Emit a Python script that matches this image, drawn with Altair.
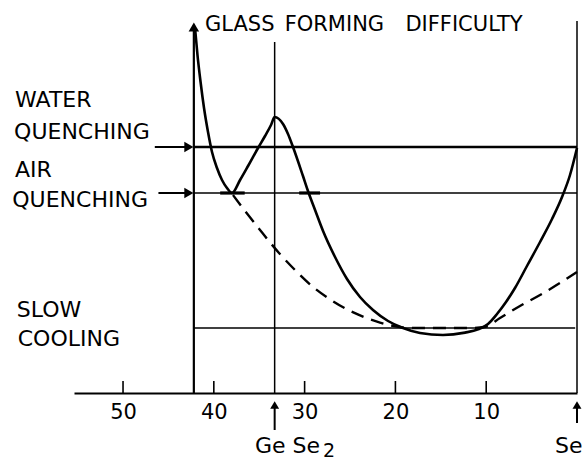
import altair as alt
import pandas as pd

# Composition axis: at.% Ge (decreasing to the right, pure Se at 0)
tick_values = [50, 40, 30, 20, 10]

# Glass-forming difficulty, solid curve
solid_x = [42.07, 41.80, 41.46, 41.08, 40.64, 40.20, 39.65, 39.10, 38.55, 38.0,
           37.11, 36.23, 35.13, 34.36, 33.70, 33.3, 32.38, 31.83, 31.28, 30.18,
           29.63, 28.85, 27.97, 26.65, 25.33, 23.9, 22.47, 20.81, 19.16, 17.29,
           14.76, 12.33, 10.90, 9.80, 8.81, 7.82, 6.83, 5.51, 4.07, 2.75,
           1.65, 0.77, 0.0]
solid_y = [91.25, 84.5, 77.75, 71.25, 65.25, 60.25, 56.25, 53.25, 51.25, 50,
           53.25, 56.75, 61.25, 64.25, 67, 69, 67.25, 64.75, 61.5, 54.25,
           50.5, 45.75, 40.5, 34, 28.5, 24, 20.75, 18, 16.25, 15,
           14.5, 15.1, 15.9, 17.25, 19.75, 22.75, 26.25, 31.75, 37.75, 43.5,
           49, 54.5, 61.25]

# Dashed curve
dash_x = [37.89, 36.56, 34.91, 32.82, 30.95, 29.07, 27.2, 25.33, 23.35, 21.7,
          19.82, 18.39, 15.09, 11.78, 10.13, 8.48, 6.28, 4.07, 1.87, 0.0]
dash_y = [49.5, 45.5, 40.75, 35, 30.5, 26.5, 23.4, 20.9, 18.9, 17.6,
          16.6, 16.25, 16.25, 16.25, 16.5, 18.75, 21.75, 24.5, 27.5, 30.25]

# Cooling-rate levels
level_names = ["water", "air", "slow"]
level_y = [61.5, 50, 16.25]

axis_x = 42.2      # composition where the difficulty axis stands
gese2_x = 33.3     # GeSe2
se_x = 0.0         # Se

X_DOMAIN = [55.4, 0]
Y_DOMAIN = [0, 95]
FONT = "DejaVu Sans"

xs = alt.Scale(domain=X_DOMAIN, nice=False, zero=False)
ys = alt.Scale(domain=Y_DOMAIN, nice=False, zero=False)

solid_df = pd.DataFrame({"x": solid_x, "y": solid_y})
dash_df = pd.DataFrame({"x": dash_x, "y": dash_y})

# x axis (labels + domain line)
base = alt.Chart(pd.DataFrame({"x": [X_DOMAIN[0], 0], "y": [0, 0]})).mark_line(opacity=0).encode(
    x=alt.X("x:Q", scale=xs,
            axis=alt.Axis(values=tick_values, ticks=False, grid=False, title=None,
                          domain=True, domainColor="black", domainWidth=2,
                          labelFont=FONT, labelFontSize=21, labelColor="black",
                          labelPadding=8, labelFlush=False)),
    y=alt.Y("y:Q", scale=ys, axis=None),
)

# inward tick marks
ticks_df = pd.DataFrame({"x": tick_values, "y0": [0] * 5, "y1": [3.0] * 5})
ticks = alt.Chart(ticks_df).mark_rule(color="black", strokeWidth=1.6).encode(
    x=alt.X("x:Q", scale=xs), y=alt.Y("y0:Q", scale=ys), y2="y1:Q"
)

# vertical reference lines
vlines_df = pd.DataFrame({
    "x": [axis_x, gese2_x, se_x],
    "y0": [0, 0, 0],
    "y1": [91, 87.75, 93],
    "w": [2.2, 1.5, 1.5],
})
vlines = alt.Chart(vlines_df).mark_rule(color="black").encode(
    x=alt.X("x:Q", scale=xs), y=alt.Y("y0:Q", scale=ys), y2="y1:Q",
    strokeWidth=alt.StrokeWidth("w:Q", scale=None),
)

# horizontal cooling-rate levels
levels_df = pd.DataFrame({
    "name": level_names, "y": level_y,
    "x0": [axis_x] * 3, "x1": [0, 0, 0.2], "w": [2.4, 1.5, 1.3],
})
levels = alt.Chart(levels_df).mark_rule(color="black").encode(
    x=alt.X("x0:Q", scale=xs), x2="x1:Q", y=alt.Y("y:Q", scale=ys),
    strokeWidth=alt.StrokeWidth("w:Q", scale=None),
)

# thickened pieces of the air-quenching level
thick_df = pd.DataFrame({"x0": [39.3, 30.6], "x1": [36.6, 28.3], "y": [50, 50]})
thick = alt.Chart(thick_df).mark_rule(color="black", strokeWidth=3.2).encode(
    x=alt.X("x0:Q", scale=xs), x2="x1:Q", y=alt.Y("y:Q", scale=ys)
)

solid = alt.Chart(solid_df).mark_line(color="black", strokeWidth=2.6,
                                      interpolate="monotone").encode(
    x=alt.X("x:Q", scale=xs), y=alt.Y("y:Q", scale=ys)
)
dashed = alt.Chart(dash_df).mark_line(color="black", strokeWidth=2.4, strokeDash=[13, 8],
                                      interpolate="monotone").encode(
    x=alt.X("x:Q", scale=xs), y=alt.Y("y:Q", scale=ys)
)

# arrows pointing at the levels
arrows_df = pd.DataFrame({"x0": [46.5, 46.1], "x1": [42.75, 42.75], "y": [61.5, 50]})
arrow_shafts = alt.Chart(arrows_df).mark_rule(color="black", strokeWidth=2).encode(
    x=alt.X("x0:Q", scale=xs), x2="x1:Q", y=alt.Y("y:Q", scale=ys)
)
arrow_heads = alt.Chart(arrows_df).mark_point(shape="triangle-right", filled=True, color="black",
                                              size=110, opacity=1).encode(
    x=alt.X("x1:Q", scale=xs), y=alt.Y("y:Q", scale=ys)
)

# arrow at the top of the difficulty axis
top_head = alt.Chart(pd.DataFrame({"x": [axis_x], "y": [91.5]})).mark_point(
    shape="triangle-up", filled=True, color="black", size=110, opacity=1).encode(
    x=alt.X("x:Q", scale=xs), y=alt.Y("y:Q", scale=ys)
)

# arrows under the composition axis marking GeSe2 and Se
up_df = pd.DataFrame({"x": [gese2_x, se_x], "y0": [-3.0, -3.0], "y1": [-9.25, -7.5]})
up_shafts = alt.Chart(up_df).mark_rule(color="black", strokeWidth=2).encode(
    x=alt.X("x:Q", scale=xs), y=alt.Y("y0:Q", scale=ys), y2="y1:Q"
)
up_heads = alt.Chart(up_df).mark_point(shape="triangle-up", filled=True, color="black",
                                       size=80, opacity=1).encode(
    x=alt.X("x:Q", scale=xs), y=alt.Y("y0:Q", scale=ys)
)

# text annotations
labels_df = pd.DataFrame({
    "text": ["WATER", "QUENCHING", "AIR", "QUENCHING", "SLOW", "COOLING",
             "GLASS", "FORMING", "DIFFICULTY", "Ge Se", "Se"],
    "x": [61.9, 62.0, 61.9, 62.2, 61.7, 61.6, 40.97, 32.2, 18.9, 35.46, 2.42],
    "y": [71.5, 63.5, 54, 46.5, 19, 11.75, 90.5, 90.5, 90.5, -15, -15],
    "size": [22, 22, 22, 22, 22, 22, 21, 21, 21, 22, 22],
})
labels = alt.Chart(labels_df).mark_text(align="left", baseline="alphabetic", font=FONT,
                                        color="black").encode(
    x=alt.X("x:Q", scale=xs), y=alt.Y("y:Q", scale=ys), text="text:N",
    size=alt.Size("size:Q", scale=None),
)
sub = alt.Chart(pd.DataFrame({"x": [27.97], "y": [-15.9], "t": ["2"]})).mark_text(
    align="left", baseline="alphabetic", font=FONT, fontSize=19, color="black").encode(
    x=alt.X("x:Q", scale=xs), y=alt.Y("y:Q", scale=ys), text="t:N"
)

chart = alt.layer(
    base, ticks, vlines, levels, thick, dashed, solid,
    arrow_shafts, arrow_heads, top_head, up_shafts, up_heads, labels, sub,
).properties(
    width=503, height=380,
    padding={"left": 74, "top": 13, "right": 9, "bottom": 69},
    autosize="none", background="white",
).configure_view(stroke=None)

chart.save("out.html", embed_options={"renderer": "svg", "actions": False})
